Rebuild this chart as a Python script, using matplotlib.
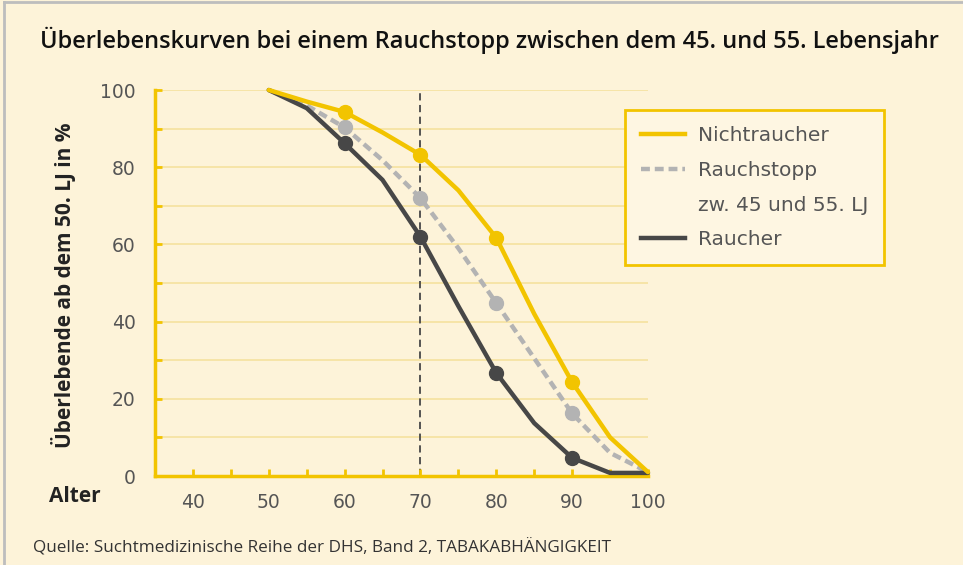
import matplotlib
matplotlib.use("Agg")
import matplotlib.pyplot as plt
from matplotlib.lines import Line2D

# -------- data ----------
ALTER = [50, 55, 60, 65, 70, 75, 80, 85, 90, 95, 100]
NICHTRAUCHER = [100, 97, 94.3, 89, 83.2, 74, 61.7, 42, 24.3, 10, 1]
RAUCHSTOPP = [100, 96, 90.3, 81.8, 72, 59, 44.8, 30.5, 16.2, 6, 1]
RAUCHER = [100, 95.3, 86.2, 76.7, 62, 44, 26.7, 13.7, 4.7, 0.8, 0.8]
MARK_ALTER = [60, 70, 80, 90]

X_TICKS = [40, 50, 60, 70, 80, 90, 100]
Y_TICKS = [0, 20, 40, 60, 80, 100]

BG = "#FDF3D9"
GELB = "#F2C400"
HELLGRAU = "#B3B3B3"
DUNKEL = "#474747"
GRID = "#F6E3A3"
TXT = "#555555"
NUM_FONT = ["DejaVu Sans"]
DASH = (0, (2.0, 1.1))

plt.rcParams["font.family"] = ["Open Sans", "DejaVu Sans"]

fig = plt.figure(figsize=(9.63, 5.65), dpi=100, facecolor=BG)
ax = fig.add_axes([155 / 963, 1 - 476 / 565, (648 - 155) / 963, (476 - 90) / 565])
ax.set_facecolor(BG)

# grid
for y in range(10, 101, 10):
    ax.axhline(y, color=GRID, lw=1.3, zorder=0)

ax.axvline(70, ymin=0, ymax=1, color=DUNKEL, lw=1.3, ls=(0, (4, 2.5)), zorder=1)


def serie(ys, color, ls, label):
    ax.plot(ALTER, ys, color=color, lw=3.2, ls=ls, zorder=3, clip_on=False,
            solid_capstyle="round", label=label)
    mx = [a for a in ALTER if a in MARK_ALTER]
    my = [y for a, y in zip(ALTER, ys) if a in MARK_ALTER]
    ax.plot(mx, my, "o", color=color, ms=10, zorder=4, clip_on=False)


serie(RAUCHSTOPP, HELLGRAU, DASH, "Rauchstopp")
serie(RAUCHER, DUNKEL, "-", "Raucher")
serie(NICHTRAUCHER, GELB, "-", "Nichtraucher")

ax.set_xlim(35, 100)
ax.set_ylim(0, 100)

for s in ["top", "right"]:
    ax.spines[s].set_visible(False)
for s in ["left", "bottom"]:
    ax.spines[s].set_color(GELB)
    ax.spines[s].set_linewidth(2.5)

ax.set_xticks(range(35, 101, 5))
ax.set_xticklabels([str(v) if v in X_TICKS else "" for v in range(35, 101, 5)])
ax.set_yticks(range(0, 101, 10))
ax.set_yticklabels([str(v) if v in Y_TICKS else "" for v in range(0, 101, 10)])
ax.tick_params(axis="both", direction="in", color=GELB, width=2, length=5,
               labelcolor=TXT, labelsize=13.5)
ax.tick_params(axis="x", pad=12)
ax.tick_params(axis="y", pad=14)
for t in ax.get_xticklabels() + ax.get_yticklabels():
    t.set_family(NUM_FONT)

# texts
fig.text(40 / 963, 1 - 40 / 565, "Überlebenskurven bei einem Rauchstopp zwischen dem 45. und 55. Lebensjahr",
         fontsize=17, fontweight="semibold", color="#111111", va="center", ha="left")
fig.text(64 / 963, 1 - 285 / 565, "Überlebende ab dem 50. LJ in %", rotation=90,
         fontsize=15, fontweight="bold", color="#222222", va="center", ha="center")
fig.text(75 / 963, 1 - 497 / 565, "Alter", fontsize=15, fontweight="bold",
         color="#222222", va="center", ha="center")
fig.text(33 / 963, 1 - 548 / 565,
         "Quelle: Suchtmedizinische Reihe der DHS, Band 2, TABAKABHÄNGIGKEIT",
         fontsize=12.3, color="#333333", va="center", ha="left")

# legend (second Rauchstopp line has no handle)
handles = [
    Line2D([], [], color=GELB, lw=3.2),
    Line2D([], [], color=HELLGRAU, lw=3.2, ls=DASH),
    Line2D([], [], color="none", lw=0),
    Line2D([], [], color=DUNKEL, lw=3.2),
]
labels = ["Nichtraucher", "Rauchstopp", "zw. 45 und 55. LJ", "Raucher"]
leg = fig.legend(handles, labels, loc="upper left",
                 bbox_to_anchor=(625 / 963, 1 - 110 / 565),
                 frameon=True, fancybox=False, facecolor="#FEF6E2", edgecolor=GELB,
                 prop={"family": NUM_FONT, "size": 14.5}, labelcolor=TXT,
                 handlelength=2.2, handletextpad=0.6, borderpad=0.8,
                 labelspacing=0.78, borderaxespad=0)
leg.get_frame().set_linewidth(2)
leg.get_frame().set_alpha(1)

# grey border top/left
fig.add_artist(Line2D([0.004, 0.004], [0, 0.996], transform=fig.transFigure,
                      color="#BDBDBD", lw=2))
fig.add_artist(Line2D([0.004, 1], [0.996, 0.996], transform=fig.transFigure,
                      color="#BDBDBD", lw=2))

fig.savefig("out.png", dpi=100, facecolor=BG)
